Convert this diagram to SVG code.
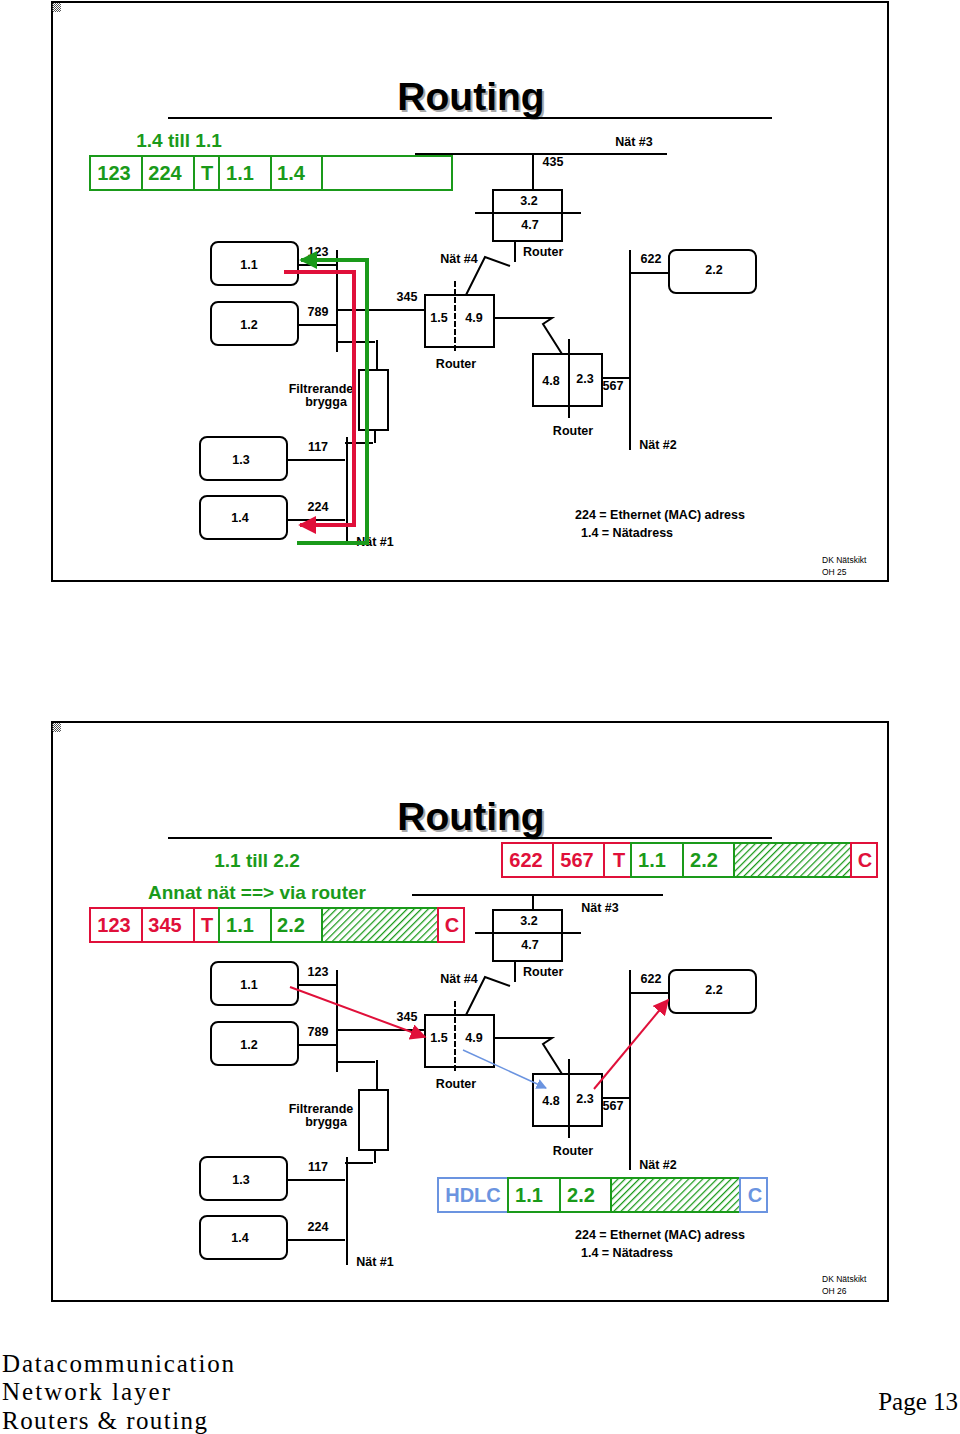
<svg xmlns="http://www.w3.org/2000/svg" width="960" height="1434" viewBox="0 0 960 1434">
<style>
.b{font-family:"Liberation Sans",Arial,sans-serif;font-weight:bold;font-size:12.5px;fill:#000}
.m{text-anchor:middle}
.ln{stroke:#000;stroke-width:2;fill:none}
.host{fill:#fff;stroke:#000;stroke-width:2}
.box{fill:#fff;stroke:#000;stroke-width:2}
.title{font-family:"Liberation Sans",Arial,sans-serif;font-weight:bold;font-size:39px;text-anchor:middle}
.gf{fill:#fff;stroke:#1a9a1a;stroke-width:2}
.rf{fill:#fff;stroke:#e0103a;stroke-width:2}
.bf{fill:#fff;stroke:#6b94e0;stroke-width:2}
.gt{font-family:"Liberation Sans",Arial,sans-serif;font-weight:bold;font-size:20px;fill:#1a9a1a}
.rt{font-family:"Liberation Sans",Arial,sans-serif;font-weight:bold;font-size:20px;fill:#e0103a}
.bt{font-family:"Liberation Sans",Arial,sans-serif;font-weight:bold;font-size:20px;fill:#6b94e0}
.sm{font-family:"Liberation Sans",Arial,sans-serif;font-size:8.5px}
.ft{font-family:"Liberation Serif","Times New Roman",serif;font-size:25px}
</style>
<defs>
<pattern id="hatch" width="5" height="5" patternUnits="userSpaceOnUse" patternTransform="rotate(45)">
<rect width="5" height="5" fill="#fff"/><line x1="0" y1="0" x2="0" y2="5" stroke="#1a9a1a" stroke-width="2.5"/>
</pattern>
<pattern id="chk" width="2" height="2" patternUnits="userSpaceOnUse"><rect width="1" height="1" fill="#555"/><rect x="1" y="1" width="1" height="1" fill="#555"/></pattern>
<marker id="ar" viewBox="0 0 10 10" refX="9" refY="5" markerWidth="4.5" markerHeight="4.5" orient="auto"><path d="M0,0L10,5L0,10z" fill="#e0103a"/></marker>
<marker id="ag" viewBox="0 0 10 10" refX="9" refY="5" markerWidth="4.5" markerHeight="4.5" orient="auto"><path d="M0,0L10,5L0,10z" fill="#1a9a1a"/></marker>
<marker id="ab" viewBox="0 0 10 10" refX="9" refY="5" markerWidth="7" markerHeight="7" orient="auto"><path d="M0,0L10,5L0,10z" fill="#6b94e0"/></marker>
<marker id="ar2" viewBox="0 0 10 10" refX="9" refY="5" markerWidth="8" markerHeight="8" orient="auto"><path d="M0,0L10,5L0,10z" fill="#e0103a"/></marker>
<g id="net">
<g id="h11"><rect class="host" x="211" y="242" width="87" height="43" rx="7"/><text class="b m" x="249" y="269">1.1</text></g>
<g id="h12"><rect class="host" x="211" y="302" width="87" height="43" rx="7"/><text class="b m" x="249" y="329">1.2</text></g>
<g id="h13"><rect class="host" x="200" y="437" width="87" height="43" rx="7"/><text class="b m" x="241" y="464">1.3</text></g>
<g id="h14"><rect class="host" x="200" y="496" width="87" height="43" rx="7"/><text class="b m" x="240" y="522">1.4</text></g>
<g id="h22"><rect class="host" x="669" y="250" width="87" height="43" rx="7"/><text class="b m" x="714" y="274">2.2</text></g>
<g id="r1"><rect class="box" x="425" y="295" width="69" height="52"/><line x1="455" y1="281" x2="455" y2="352" stroke="#000" stroke-width="2" stroke-dasharray="6,2"/><text class="b m" x="439" y="322">1.5</text><text class="b m" x="474" y="322">4.9</text><text class="b m" x="456" y="368">Router</text></g>
<g id="r2"><rect class="box" x="533" y="354" width="69" height="52"/><line class="ln" x1="569" y1="339" x2="569" y2="418"/><text class="b m" x="551" y="385">4.8</text><text class="b m" x="585" y="383">2.3</text><text class="b m" x="573" y="435">Router</text></g>
<g id="r3"><rect class="box" x="493" y="190" width="69" height="51"/><line class="ln" x1="475" y1="213" x2="581" y2="213"/><text class="b m" x="529" y="205">3.2</text><text class="b m" x="530" y="229">4.7</text><text class="b" x="523" y="256">Router</text></g>
<g id="bridge"><rect class="box" x="359" y="370" width="29" height="60"/><text class="b m" x="321" y="393">Filtrerande</text><text class="b m" x="326" y="406">brygga</text></g>
<g id="wires" class="ln">
<line x1="337" y1="250" x2="337" y2="352"/><line x1="298" y1="265" x2="337" y2="265"/><line x1="298" y1="325" x2="337" y2="325"/>
<line x1="337" y1="342" x2="375" y2="342"/><line x1="377" y1="340" x2="377" y2="370"/><line x1="375" y1="430" x2="375" y2="443"/><line x1="345" y1="443" x2="373" y2="443"/>
<line x1="347" y1="437" x2="347" y2="545"/><line x1="287" y1="460" x2="345" y2="460"/><line x1="287" y1="520" x2="345" y2="520"/>
<line x1="337" y1="310" x2="425" y2="310"/>
<polyline points="515,241 515,262"/><polyline points="510,266 485,257 466,295"/>
<polyline points="494,318 552,318 543,324 562,354"/>
<line x1="602" y1="378" x2="630" y2="378"/><line x1="630" y1="250" x2="630" y2="450"/><line x1="630" y1="273" x2="669" y2="273"/>
</g>
<g id="labels">
<text class="b m" x="318" y="256">123</text><text class="b m" x="318" y="316">789</text><text class="b m" x="318" y="451">117</text><text class="b m" x="318" y="511">224</text>
<text class="b m" x="375" y="546">Nät #1</text><text class="b m" x="407" y="301">345</text><text class="b m" x="459" y="263">Nät #4</text>
<text class="b m" x="613" y="390">567</text><text class="b m" x="651" y="263">622</text><text class="b m" x="658" y="449">Nät #2</text>
<text class="b" x="575" y="519">224 = Ethernet (MAC) adress</text><text class="b" x="581" y="537">1.4 = Nätadress</text>
</g>
</g>
</defs>

<g id="panel1">
<rect x="52" y="2" width="836" height="579" fill="#fff" stroke="#000" stroke-width="2"/>
<rect x="52" y="3" width="9" height="9" fill="url(#chk)"/>
<text class="title" x="473" y="112" fill="#aaa">Routing</text>
<text class="title" x="471" y="110">Routing</text>
<line class="ln" x1="168" y1="118" x2="772" y2="118"/>
<use href="#net"/>
<g id="net3top" class="ln"><line x1="415" y1="154" x2="667" y2="154"/><line x1="533" y1="154" x2="533" y2="190"/></g>
<text class="b m" x="553" y="166">435</text><text class="b m" x="634" y="146">Nät #3</text>
<g id="frame1">
<text class="gt m" x="179" y="147" style="font-size:19px">1.4 till 1.1</text>
<rect class="gf" x="90" y="156" width="362" height="34"/>
<g stroke="#1a9a1a" stroke-width="2"><line x1="142" y1="156" x2="142" y2="190"/><line x1="194" y1="156" x2="194" y2="190"/><line x1="219" y1="156" x2="219" y2="190"/><line x1="271" y1="156" x2="271" y2="190"/><line x1="322" y1="156" x2="322" y2="190"/></g>
<text class="gt m" x="114" y="180">123</text><text class="gt m" x="165" y="180">224</text><text class="gt m" x="207" y="180">T</text><text class="gt m" x="240" y="180">1.1</text><text class="gt m" x="291" y="180">1.4</text>
</g>
<g id="paths1" fill="none" stroke-width="4">
<polyline points="284,272 354,272 354,525 300,525" stroke="#e0103a" marker-end="url(#ar)"/>
<polyline points="297,543 367,543 367,260 301,260" stroke="#1a9a1a" marker-end="url(#ag)"/>
</g>
<text class="sm" x="822" y="563">DK Nätskikt</text><text class="sm" x="822" y="575">OH 25</text>
</g>

<g id="panel2">
<rect x="52" y="722" width="836" height="579" fill="#fff" stroke="#000" stroke-width="2"/>
<rect x="52" y="723" width="9" height="9" fill="url(#chk)"/>
<text class="title" x="473" y="832" fill="#aaa">Routing</text>
<text class="title" x="471" y="830">Routing</text>
<line class="ln" x1="168" y1="838" x2="772" y2="838"/>
<use href="#net" y="720"/>
<g class="ln"><line x1="412" y1="895" x2="663" y2="895"/><line x1="533" y1="895" x2="533" y2="910"/></g>
<text class="b m" x="600" y="912">Nät #3</text>
<text class="gt m" x="257" y="867" style="font-size:19px">1.1 till 2.2</text>
<text class="gt m" x="257" y="899" style="font-size:19px">Annat nät ==&gt; via router</text>
<g id="frameA">
<rect class="rf" x="90" y="908" width="129" height="34"/>
<line x1="142" y1="908" x2="142" y2="942" stroke="#e0103a" stroke-width="2"/><line x1="194" y1="908" x2="194" y2="942" stroke="#e0103a" stroke-width="2"/>
<rect class="gf" x="219" y="908" width="219" height="34"/>
<line x1="271" y1="908" x2="271" y2="942" stroke="#1a9a1a" stroke-width="2"/><line x1="322" y1="908" x2="322" y2="942" stroke="#1a9a1a" stroke-width="2"/>
<rect x="323" y="909" width="114" height="32" fill="url(#hatch)"/>
<rect class="rf" x="438" y="908" width="26" height="34"/>
<text class="rt m" x="114" y="932">123</text><text class="rt m" x="165" y="932">345</text><text class="rt m" x="207" y="932">T</text><text class="gt m" x="240" y="932">1.1</text><text class="gt m" x="291" y="932">2.2</text><text class="rt m" x="452" y="932">C</text>
</g>
<g id="frameB">
<rect class="rf" x="502" y="843" width="129" height="34"/>
<line x1="553" y1="843" x2="553" y2="877" stroke="#e0103a" stroke-width="2"/><line x1="604" y1="843" x2="604" y2="877" stroke="#e0103a" stroke-width="2"/>
<rect class="gf" x="631" y="843" width="220" height="34"/>
<line x1="683" y1="843" x2="683" y2="877" stroke="#1a9a1a" stroke-width="2"/><line x1="734" y1="843" x2="734" y2="877" stroke="#1a9a1a" stroke-width="2"/>
<rect x="735" y="844" width="115" height="32" fill="url(#hatch)"/>
<rect class="rf" x="851" y="843" width="26" height="34"/>
<text class="rt m" x="526" y="867">622</text><text class="rt m" x="577" y="867">567</text><text class="rt m" x="619" y="867">T</text><text class="gt m" x="652" y="867">1.1</text><text class="gt m" x="704" y="867">2.2</text><text class="rt m" x="865" y="867">C</text>
</g>
<g id="frameC">
<rect class="bf" x="438" y="1178" width="70" height="34"/>
<rect class="gf" x="508" y="1178" width="232" height="34"/>
<line x1="560" y1="1178" x2="560" y2="1212" stroke="#1a9a1a" stroke-width="2"/><line x1="611" y1="1178" x2="611" y2="1212" stroke="#1a9a1a" stroke-width="2"/>
<rect x="612" y="1179" width="127" height="32" fill="url(#hatch)"/>
<rect class="bf" x="740" y="1178" width="27" height="34"/>
<text class="bt m" x="473" y="1202">HDLC</text><text class="gt m" x="529" y="1202">1.1</text><text class="gt m" x="581" y="1202">2.2</text><text class="bt m" x="755" y="1202">C</text>
</g>
<g id="paths2" fill="none" stroke-width="2">
<line x1="290" y1="987" x2="425" y2="1037" stroke="#e0103a" marker-end="url(#ar2)"/>
<line x1="463" y1="1050" x2="546" y2="1088" stroke="#6b94e0" stroke-width="1.5" marker-end="url(#ab)"/>
<line x1="594" y1="1089" x2="668" y2="1000" stroke="#e0103a" marker-end="url(#ar2)"/>
</g>
<text class="sm" x="822" y="1282">DK Nätskikt</text><text class="sm" x="822" y="1294">OH 26</text>
</g>

<g id="footer">
<text class="ft" x="2" y="1372" textLength="232" lengthAdjust="spacing">Datacommunication</text>
<text class="ft" x="2" y="1400" textLength="168" lengthAdjust="spacing">Network layer</text>
<text class="ft" x="2" y="1429" textLength="205" lengthAdjust="spacing">Routers &amp; routing</text>
<text class="ft" x="958" y="1410" text-anchor="end">Page 13</text>
</g>
</svg>
